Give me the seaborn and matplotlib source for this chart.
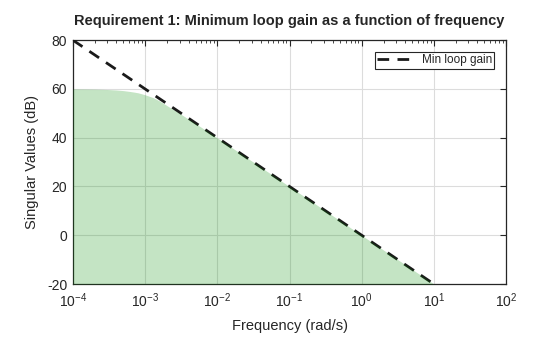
import numpy as np
import pandas as pd
import matplotlib
matplotlib.use("Agg")
import matplotlib.pyplot as plt
import seaborn as sns
from matplotlib.ticker import LogLocator, NullFormatter, FixedLocator

# Data
line_freq = [1e-4, 1e-3, 1e-2, 1e-1, 1e0, 1e1]
line_gain = [80, 60, 40, 20, 0, -20]

fill_freq = [1e-4, 2e-4, 3e-4, 4e-4, 5e-4, 6e-4, 7e-4, 8e-4, 1e-3, 1.3e-3, 1.6e-3,
             2e-3, 2.5e-3, 3e-3, 4e-3, 5e-3, 7e-3, 1e-2, 2e-2, 1e-1, 1e0, 1e1]
fill_gain = [60, 59.9, 59.75, 59.55, 59.3, 59.0, 58.7, 58.4, 57.6, 56.4, 55.0,
             53.2, 51.4, 50.0, 47.6, 45.8, 42.95, 39.95, 33.95, 19.97, -0.03, -20]

xtick_vals = [1e-4, 1e-3, 1e-2, 1e-1, 1e0, 1e1, 1e2]
xtick_labels = ["$10^{-4}$", "$10^{-3}$", "$10^{-2}$", "$10^{-1}$", "$10^{0}$", "$10^{1}$", "$10^{2}$"]
ytick_vals = [-20, 0, 20, 40, 60, 80]

sns.set_style("white")
plt.rcParams['font.family'] = ['Liberation Sans', 'DejaVu Sans']
plt.rcParams['mathtext.fontset'] = 'custom'
plt.rcParams['mathtext.rm'] = 'Liberation Sans'
plt.rcParams['mathtext.it'] = 'Liberation Sans'

fig = plt.figure(figsize=(5.6, 3.37), dpi=100)
ax = fig.add_axes([0.130, 0.157, 0.774, 0.724])

ax.grid(True, which='major', color='#dcdcdc', linewidth=0.8, zorder=0)
ax.set_axisbelow(True)

df_line = pd.DataFrame({"freq": line_freq, "gain": line_gain})
sns.lineplot(data=df_line, x="freq", y="gain", ax=ax, color='#1a1a1a',
             linewidth=2.0, label="Min loop gain", zorder=3)
ax.lines[-1].set_dashes([4.2, 3.0])

ax.fill_between(fill_freq, fill_gain, -20, color=(0.0, 0.55, 0.0), alpha=0.23,
                linewidth=0, zorder=4, clip_on=False)

ax.set_xscale('log')
ax.set_xlim(1e-4, 1e2)
ax.set_ylim(-20, 80)
ax.xaxis.set_major_locator(FixedLocator(xtick_vals))
ax.set_xticklabels(xtick_labels)
ax.xaxis.set_minor_locator(LogLocator(base=10, subs=np.arange(2, 10), numticks=20))
ax.xaxis.set_minor_formatter(NullFormatter())
ax.set_yticks(ytick_vals)
ax.set_yticklabels([str(v) for v in ytick_vals])

ax.tick_params(which='both', direction='in', top=True, right=True, labelsize=10,
               colors='#262626', labelcolor='#262626')
ax.tick_params(axis='x', which='major', length=4, width=0.8, pad=5)
ax.tick_params(axis='y', which='major', length=4, width=0.8, pad=4)
ax.tick_params(which='minor', length=2.2, width=0.6)

for s in ax.spines.values():
    s.set_color('#262626')
    s.set_linewidth(0.9)

ax.set_xlabel("Frequency (rad/s)", fontsize=10.5, color='#262626', labelpad=7)
ax.set_ylabel("Singular Values (dB)", fontsize=10.5, color='#262626', labelpad=6)
ax.set_title("Requirement 1: Minimum loop gain as a function of frequency",
             fontsize=10.5, fontweight='bold', color='#262626', pad=11)

leg = ax.legend(loc='upper right', fontsize=8.5, frameon=True, fancybox=False,
                edgecolor='#262626', framealpha=1, borderpad=0.2,
                handlelength=3.4, handletextpad=0.4, borderaxespad=1.0)
leg.get_frame().set_linewidth(0.8)

fig.savefig("out.png", dpi=100)
